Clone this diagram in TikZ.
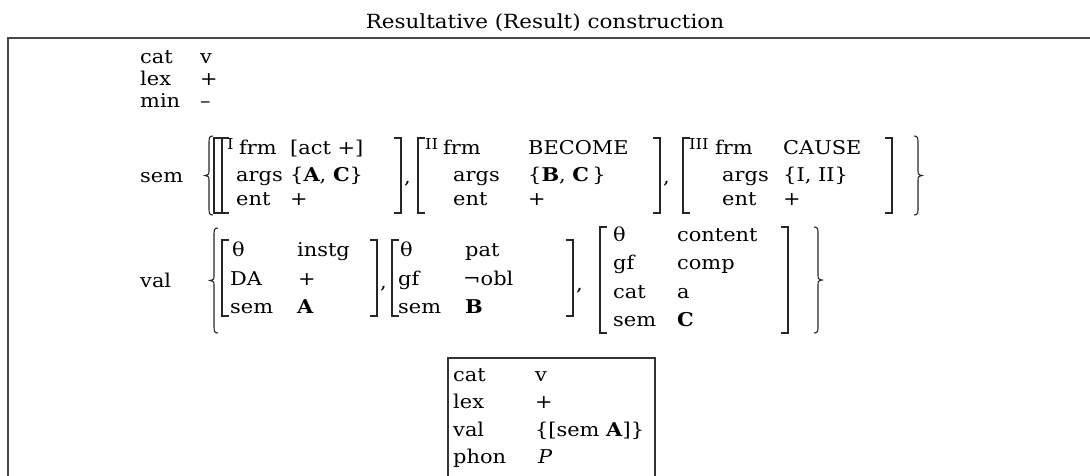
\documentclass[tikz,border=0pt]{standalone}
\usepackage{fontspec}
\setmainfont{DejaVu Serif}[FakeStretch=1.1]
\tikzset{
  txt/.style={anchor=base west, inner sep=0pt, font=\fontsize{19}{22}\selectfont},
  idx/.style={anchor=base west, inner sep=0pt, font=\fontsize{15}{17}\selectfont},
  ttl/.style={anchor=base, inner sep=0pt, font=\fontsize{19.5}{22}\selectfont},
  brk/.style={line width=1.1pt, black!85},
  frame/.style={line width=2.5pt, black!72},
  boxline/.style={line width=1.8pt, black!80},
}
\newcommand\myLB[3]{\draw[brk] (#1+7,#2) -- (#1,#2) -- (#1,#3) -- (#1+7,#3);}
\newcommand\myRB[3]{\draw[brk] (#1-7,#2) -- (#1,#2) -- (#1,#3) -- (#1-7,#3);}
\newcommand\myLC[3]{\draw[brk] (#1+8,#2) .. controls (#1+4,#2) and (#1+4,#2+2) .. (#1+4,#2+8) -- (#1+4,{(#2+#3)/2-6}) .. controls (#1+4,{(#2+#3)/2-1}) .. (#1,{(#2+#3)/2}) .. controls (#1+4,{(#2+#3)/2+1}) .. (#1+4,{(#2+#3)/2+6}) -- (#1+4,#3-8) .. controls (#1+4,#3-2) and (#1+4,#3) .. (#1+8,#3);}
\newcommand\myRC[3]{\draw[brk] (#1-8,#2) .. controls (#1-4,#2) and (#1-4,#2+2) .. (#1-4,#2+8) -- (#1-4,{(#2+#3)/2-6}) .. controls (#1-4,{(#2+#3)/2-1}) .. (#1,{(#2+#3)/2}) .. controls (#1-4,{(#2+#3)/2+1}) .. (#1-4,{(#2+#3)/2+6}) -- (#1-4,#3-8) .. controls (#1-4,#3-2) and (#1-4,#3) .. (#1-8,#3);}
\begin{document}
\begin{tikzpicture}[x=1pt,y=-1pt]
\useasboundingbox (0,0) rectangle (1090,475);
\clip (0,0) rectangle (1090,475);
% title and frame
\node[ttl] (title) at (545,28) {Resultative (Result) construction};
\draw[frame] (8,480) -- (8,38) -- (1095,38);
% top features
\node[txt] (catL) at (140,63) {cat};  \node[txt] (catV) at (200,63) {v};
\node[txt] (lexL) at (140,85) {lex};  \node[txt] (lexV) at (200,85) {+};
\node[txt] (minL) at (140,107) {min}; \node[txt] (minV) at (200,107) {–};
% sem
\node[txt] (semL) at (140,182) {sem};
\myLC{205}{136}{215}
\myLB{214}{138}{213}
% frame I
\myLB{222}{138}{213}
\node[idx] (iI) at (227,149) {I};
\node[txt] (iFrm) at (239,154) {frm};   \node[txt] (iFrmV) at (290,154) {[act +]};
\node[txt] (iArgs) at (236,181) {args}; \node[txt] (iArgsV) at (290,181) {\{\textbf{A}, \textbf{C}\}};
\node[txt] (iEnt) at (236,205) {ent};   \node[txt] (iEntV) at (290,205) {+};
\myRB{401}{138}{213}
\node[txt] (c1) at (404,183) {,};
% frame II
\myLB{418}{138}{213}
\node[idx] (iII) at (425,149) {II};
\node[txt] (iiFrm) at (443,154) {frm};   \node[txt] (iiFrmV) at (528,154) {BECOME};
\node[txt] (iiArgs) at (453,181) {args}; \node[txt] (iiArgsV) at (528,181) {\{\textbf{B}, \textbf{C}\,\}};
\node[txt] (iiEnt) at (453,205) {ent};   \node[txt] (iiEntV) at (528,205) {+};
\myRB{660}{138}{213}
\node[txt] (c2) at (663,183) {,};
% frame III
\myLB{683}{138}{213}
\node[idx] (iIII) at (689,149) {III};
\node[txt] (iiiFrm) at (715,154) {frm};   \node[txt] (iiiFrmV) at (783,154) {CAUSE};
\node[txt] (iiiArgs) at (722,181) {args}; \node[txt] (iiiArgsV) at (783,181) {\{I, II\}};
\node[txt] (iiiEnt) at (722,205) {ent};   \node[txt] (iiiEntV) at (783,205) {+};
\myRB{892}{138}{213}
\myRC{922}{136}{215}
% val
\node[txt] (valL) at (140,287) {val};
\myLC{210}{228}{333}
% A
\myLB{222}{240}{316}
\node[txt] (aTh) at (232,256) {θ};   \node[txt] (aThV) at (297,256) {instg};
\node[txt] (aDA) at (230,285) {DA};  \node[txt] (aDAV) at (298,285) {+};
\node[txt] (aSem) at (230,313) {sem}; \node[txt] (aSemV) at (297,313) {\textbf{A}};
\myRB{377}{240}{316}
\node[txt] (c3) at (380,288) {,};
% B
\myLB{392}{240}{316}
\node[txt] (bTh) at (400,256) {θ};   \node[txt] (bThV) at (465,256) {pat};
\node[txt] (bGf) at (398,285) {gf};  \node[txt] (bGfV) at (463,285) {¬obl};
\node[txt] (bSem) at (398,313) {sem}; \node[txt] (bSemV) at (465,313) {\textbf{B}};
\myRB{573}{240}{316}
\node[txt] (c4) at (576,290) {,};
% C
\myLB{600}{227}{333}
\node[txt] (cTh) at (613,241) {θ};   \node[txt] (cThV) at (677,241) {content};
\node[txt] (cGf) at (613,269) {gf};  \node[txt] (cGfV) at (677,269) {comp};
\node[txt] (cCat) at (613,298) {cat}; \node[txt] (cCatV) at (677,298) {a};
\node[txt] (cSem) at (613,326) {sem}; \node[txt] (cSemV) at (677,326) {\textbf{C}};
\myRB{788}{227}{333}
\myRC{822}{227}{333}
% lexical box
\draw[boxline] (448,480) -- (448,358) -- (655,358) -- (655,480);
\node[txt] (bxCat) at (453,381) {cat};   \node[txt] (bxCatV) at (535,381) {v};
\node[txt] (bxLex) at (453,408) {lex};   \node[txt] (bxLexV) at (535,408) {+};
\node[txt] (bxVal) at (453,436) {val};   \node[txt] (bxValV) at (535,436) {\{[sem \textbf{A}]\}};
\node[txt] (bxPhon) at (453,463) {phon}; \node[txt] (bxPhonV) at (538,463) {\textit{P}};
\end{tikzpicture}
\end{document}
